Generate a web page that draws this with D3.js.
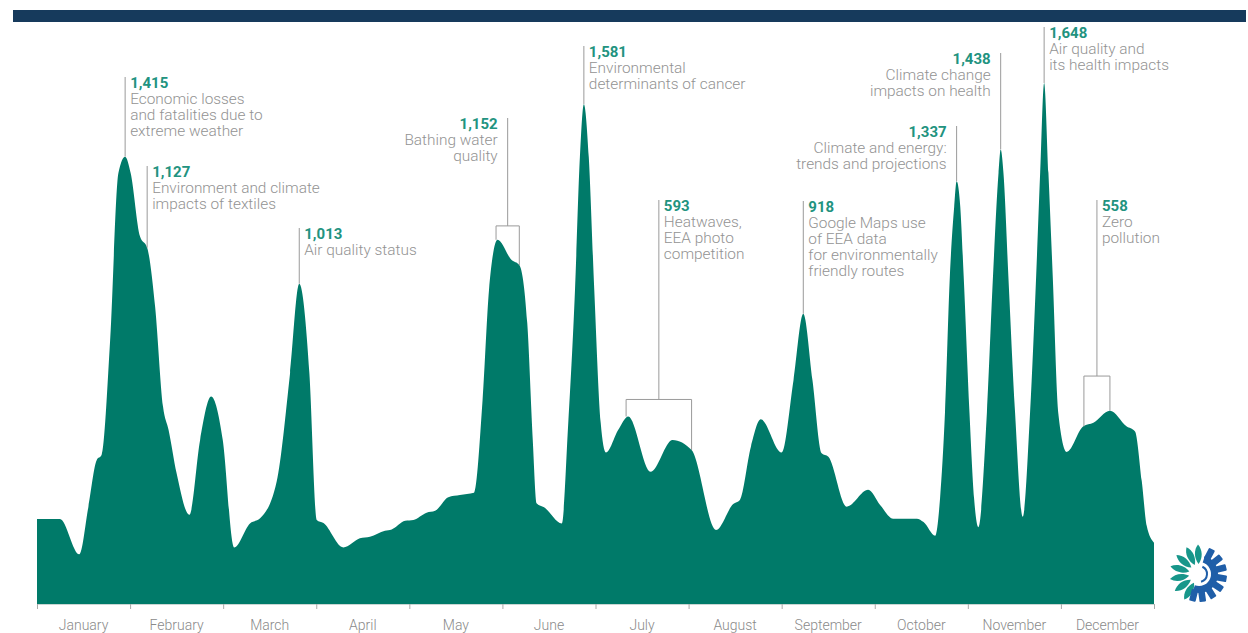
<!DOCTYPE html>
<html><head><meta charset="utf-8">
<script src="https://cdn.jsdelivr.net/npm/d3@7"></script>
<style>
body{margin:0;background:#fff}
svg{display:block}
text{font-family:Roboto,"Open Sans",Arial,sans-serif}
</style>
</head><body>
<svg id="chart" width="1248" height="633"></svg>
<script>
// ---- data ----
const months = ["January","February","March","April","May","June","July","August","September","October","November","December"];
// approximate day-of-year positions (year drawn as 12 equal months)
const days = [0,7.5,13.8,16.8,19.5,21.1,23.9,26.6,28.8,30.6,33.7,36.0,38.6,41.2,43.0,45.6,49.8,53.3,56.9,60.7,64.4,69.6,72.9,78.3,82.7,85.7,89.0,91.4,93.6,100.1,105.5,108.8,113.7,115.9,120.3,123.0,127.3,130.1,134.4,138.2,142.8,145.6,147.7,150.5,155.1,157.6,160.2,162.0,163.3,165.7,171.5,173.6,175.8,177.4,178.7,180.3,182.1,184.2,185.9,189.9,193.2,200.5,207.7,213.9,221.9,227.5,229.7,233.3,236.5,243.3,247.2,250.4,253.4,256.4,258.6,264.6,271.6,275.5,279.8,287.5,289.7,293.5,295.1,296.7,298.3,299.7,300.5,301.7,302.8,304.7,306.2,307.6,310.4,312.4,314.2,314.9,315.8,317.4,319.6,322.1,324.5,326.5,327.8,329.1,330.5,331.9,333.7,336.5,341.9,345.2,350.6,356.0,358.8,361.0,362.6,365];
const views = [269,269,157,308,455,471,835,1363,1415,1363,1162,1127,940,623,550,414,282,519,656,519,179,255,271,387,731,1013,731,266,256,179,208,213,232,236,263,266,289,295,338,345,352,645,993,1152,1088,1072,889,519,318,306,255,573,993,1414,1581,1414,993,573,479,550,593,418,519,487,234,316,329,498,584,479,708,918,708,477,466,308,361,313,270,270,259,216,335,606,1039,1256,1337,1256,1039,606,335,243,606,1039,1364,1438,1364,1039,606,276,606,1039,1364,1648,1364,1039,606,481,562,573,611,562,546,389,248,194];

const annoValues = [1415,1127,1013,1152,1581,593,918,1337,1438,1648,558];
const annoTexts = [
  ["Economic losses","and fatalities due to","extreme weather"],
  ["Environment and climate","impacts of textiles"],
  ["Air quality status"],
  ["Bathing water","quality"],
  ["Environmental","determinants of cancer"],
  ["Heatwaves,","EEA photo","competition"],
  ["Google Maps use","of EEA data","for environmentally","friendly routes"],
  ["Climate and energy:","trends and projections"],
  ["Climate change","impacts on health"],
  ["Air quality and","its health impacts"],
  ["Zero","pollution"]
];
const annoStartDay = [28.8,36.0,85.7,150.0,178.7,192.5,250.4,300.5,314.9,329.1,342.1];
const annoEndDay   = [28.8,36.0,85.7,157.6,178.7,213.9,250.4,300.5,314.9,329.1,350.6];

// ---- layout (not data) ----
const labelTop   = [77,166,228,118,46,200,201,126,53,27,200];
const labelSide  = ["start","start","start","end","start","start","start","end","end","start","start"];
const bracketTopVal = [null,null,null,1196,null,647,null,null,null,null,721];

const svg = d3.select("#chart");
const x = d3.scaleLinear().domain([0,365]).range([37,1154]);
const y = d3.scaleLinear().domain([0,1700]).range([604,66.56]);

const C_AREA = "#007a69", C_NUM = "#22937f", C_TXT = "#939393", C_LINE = "#9a9a9a";

// top bar
svg.append("rect").attr("x",13).attr("y",10).attr("width",1233).attr("height",12).attr("fill","#163a5c");

const pts = days.map((d,i)=>({day:d, value:views[i]}));
const area = d3.area().x(d=>x(d.day)).y0(y(0)).y1(d=>y(d.value)).curve(d3.curveMonotoneX);
svg.append("path").datum(pts).attr("d",area).attr("fill",C_AREA);

// axis
const bounds = d3.range(13).map(i=>i*365/12);
const axis = svg.append("g").attr("transform",`translate(0,${y(0)})`)
  .call(d3.axisBottom(x).tickValues(bounds).tickSize(5).tickFormat(""));
axis.select(".domain").attr("stroke","#c9d6d3");
axis.selectAll(".tick line").attr("stroke","#aaaaaa");
svg.append("g").selectAll("text").data(months).join("text")
  .attr("x",(d,i)=>x((i+0.5)*365/12)).attr("y",630)
  .attr("text-anchor","middle").attr("font-size",14).attr("font-weight",300)
  .attr("fill","#8a8a8a").text(d=>d);

// value lookup at nearest data point
function valAt(day){
  let best=0; days.forEach((d,i)=>{ if(Math.abs(d-day)<Math.abs(days[best]-day)) best=i; });
  return views[best];
}

// annotations
const ann = svg.append("g");
annoValues.forEach((v,i)=>{
  const s = annoStartDay[i], e = annoEndDay[i];
  const isBracket = s!==e;
  const lx = x((s+e)/2);
  const top = labelTop[i];
  const g = ann.append("g");
  if(isBracket){
    const by = y(bracketTopVal[i]);
    g.append("line").attr("x1",lx).attr("x2",lx).attr("y1",top).attr("y2",by);
    g.append("path").attr("fill","none")
      .attr("d",`M${x(s)},${y(valAt(s))}V${by}H${x(e)}V${y(valAt(e))}`);
  } else {
    g.append("line").attr("x1",lx).attr("x2",lx).attr("y1",top).attr("y2",y(v));
  }
  g.selectAll("line,path").attr("stroke",C_LINE).attr("stroke-width",1);
  const side = labelSide[i];
  const tx = side==="start" ? lx+5 : lx-10;
  const base = top+11;
  g.append("text").attr("x",tx).attr("y",base).attr("text-anchor",side)
    .attr("font-size",15).attr("font-weight",700).attr("fill",C_NUM)
    .text(d3.format(",")(v));
  annoTexts[i].forEach((t,j)=>{
    g.append("text").attr("x",tx).attr("y",base+16*(j+1)).attr("text-anchor",side)
      .attr("font-size",15.4).attr("font-weight",300).attr("fill",C_TXT).text(t);
  });
});

// EEA logo
const logo = svg.append("g").attr("transform","translate(1199,574)");
const rad = Math.PI/180;
[-150,-125,-100,-75,-50,-25,-2].forEach(a=>{
  logo.append("path").attr("d","M0,-10 C4.5,-16 4.5,-24 0,-29.5 C-4.5,-24 -4.5,-16 0,-10Z")
    .attr("fill","#17968a").attr("transform",`rotate(${a})`);
});
logo.append("path").attr("d",d3.arc().innerRadius(12).outerRadius(19).startAngle(18*rad).endAngle(200*rad)())
  .attr("fill","#1f5ea8");
[28,52,76,100,124,148,172,194].forEach(a=>{
  logo.append("rect").attr("x",-3.3).attr("y",-28).attr("width",6.6).attr("height",12)
    .attr("rx",1).attr("fill","#1f5ea8").attr("transform",`rotate(${a})`);
});
logo.append("path").attr("d",d3.arc().innerRadius(7).outerRadius(9).startAngle(25*rad).endAngle(165*rad)())
  .attr("fill","#1f5ea8");
</script>
</body></html>
